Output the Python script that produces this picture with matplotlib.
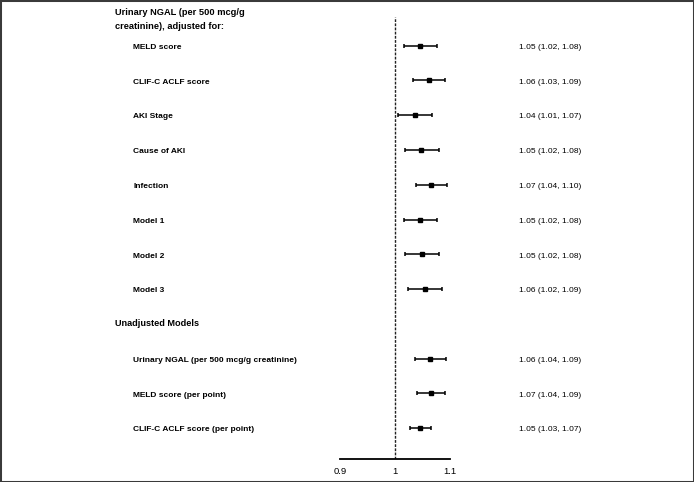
import matplotlib
matplotlib.use("Agg")
import matplotlib.pyplot as plt
import matplotlib.transforms as mtransforms
from matplotlib.patches import Rectangle

plt.rcParams['font.family'] = ['Liberation Sans', 'DejaVu Sans']

# rows, top to bottom (a None entry is a section header row)
labels = ["MELD score", "CLIF-C ACLF score", "AKI Stage", "Cause of AKI",
          "Infection", "Model 1", "Model 2", "Model 3", None,
          "Urinary NGAL (per 500 mcg/g creatinine)", "MELD score (per point)",
          "CLIF-C ACLF score (per point)"]
estimate = [1.046, 1.061, 1.036, 1.048, 1.066, 1.045, 1.049, 1.054, None,
            1.063, 1.065, 1.046]
ci_low = [1.017, 1.032, 1.006, 1.018, 1.038, 1.017, 1.019, 1.024, None,
          1.036, 1.040, 1.028]
ci_high = [1.076, 1.090, 1.068, 1.080, 1.095, 1.077, 1.080, 1.086, None,
           1.092, 1.090, 1.065]
value_text = ["1.05 (1.02, 1.08)", "1.06 (1.03, 1.09)", "1.04 (1.01, 1.07)",
              "1.05 (1.02, 1.08)", "1.07 (1.04, 1.10)", "1.05 (1.02, 1.08)",
              "1.05 (1.02, 1.08)", "1.06 (1.02, 1.09)", None,
              "1.06 (1.04, 1.09)", "1.07 (1.04, 1.09)", "1.05 (1.03, 1.07)"]
header1 = "Urinary NGAL (per 500 mcg/g\ncreatinine), adjusted for:"
header2 = "Unadjusted Models"
xticks = [0.9, 1.0, 1.1]
xtick_labels = ["0.9", "1", "1.1"]

W, H = 694, 482
fig = plt.figure(figsize=(W / 100, H / 100), dpi=100)
ax = fig.add_axes([340 / W, 23 / H, 110 / W, (465.3 - 23) / H])

rows = [i for i, e in enumerate(estimate) if e is not None]
est = [estimate[i] for i in rows]
lo = [est[k] - ci_low[i] for k, i in enumerate(rows)]
hi = [ci_high[i] - est[k] for k, i in enumerate(rows)]
ax.errorbar(est, rows, xerr=[lo, hi], fmt='s', color='black', ms=3.4,
            elinewidth=1.1, capsize=1.7, capthick=1.1)

ax.axvline(1.0, color='#222222', lw=1.0, ls=(0, (2, 1)))

ax.set_xlim(0.9, 1.1)
ax.set_ylim(11.89, -0.835)
ax.set_xticks(xticks)
ax.set_xticklabels(xtick_labels, fontsize=6.8)
ax.tick_params(axis='x', length=0, pad=5.5)
ax.set_yticks([])
for s in ['top', 'right', 'left']:
    ax.spines[s].set_visible(False)
ax.spines['bottom'].set_linewidth(1.3)
ax.patch.set_alpha(0)

trans = mtransforms.blended_transform_factory(fig.transFigure, ax.transData)
ax.text(114.7 / W, -0.75, header1, transform=trans, fontsize=6.7,
        fontweight='bold', va='center', ha='left', linespacing=1.65)
for i, lab in enumerate(labels):
    if lab is None:
        ax.text(114.7 / W, i, header2, transform=trans, fontsize=6.6,
                fontweight='bold', va='center', ha='left')
        continue
    ax.text(133.3 / W, i + 0.05, lab, transform=trans, fontsize=6,
            fontweight='bold', va='center', ha='left')
    ax.text(519.3 / W, i + 0.05, value_text[i], transform=trans, fontsize=6,
            va='center', ha='left')

fig.add_artist(Rectangle((0, 0), 1, 1, transform=fig.transFigure, fill=False,
                         ec='#3a3a3a', lw=2.2))

fig.savefig("out.png", dpi=100)
